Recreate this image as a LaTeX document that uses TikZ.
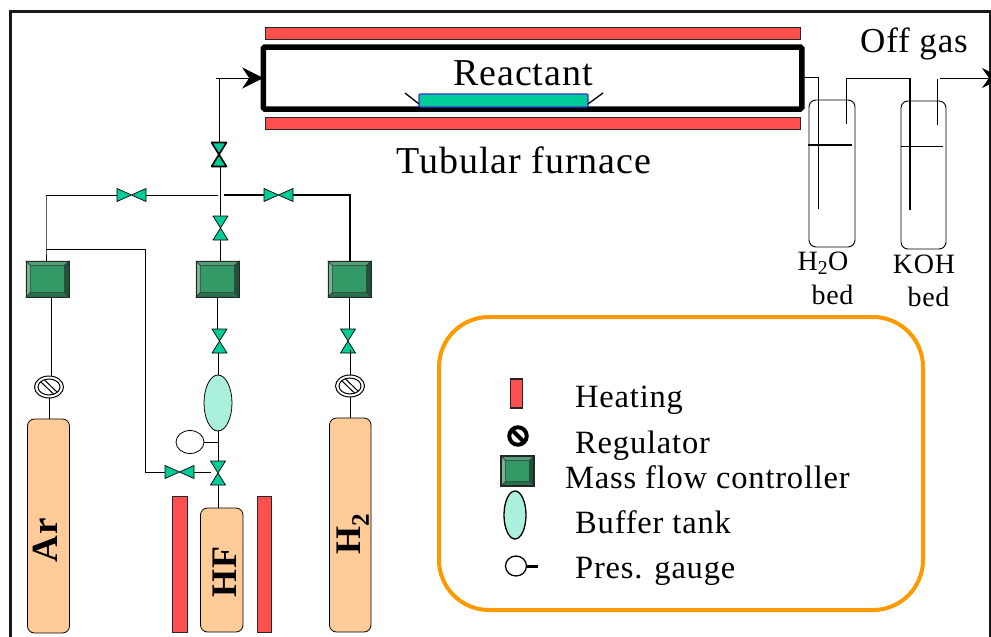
\documentclass[tikz,border=0pt]{standalone}
\usepackage{fontspec}
\setmainfont{Liberation Serif}[LetterSpace=2.5]
\usetikzlibrary{arrows.meta}
\usetikzlibrary{shapes.geometric}
\definecolor{heatred}{HTML}{FF5050}
\definecolor{valvegreen}{HTML}{00CC99}
\definecolor{tankgreen}{HTML}{AAF0DC}
\definecolor{mfcgreen}{HTML}{339966}
\definecolor{mfcleft}{HTML}{74B394}
\definecolor{mfctop}{HTML}{529F79}
\definecolor{mfcright}{HTML}{1C5339}
\definecolor{mfcbottom}{HTML}{29704C}
\definecolor{gasorange}{HTML}{FFCC99}
\definecolor{legendorange}{HTML}{FF9900}
\definecolor{plateblue}{HTML}{3333CC}
\tikzset{
    pipe/.style={line width=0.9pt,black},
    heater/.style={draw=black!85,line width=1pt,fill=heatred,rectangle,inner sep=0pt,outer sep=0pt},
    valvebox/.style={rectangle,inner sep=0pt,outer sep=0pt},
    valvetall/.style={valvebox,minimum width=15pt,minimum height=24pt},
    valvewide/.style={valvebox,rotate=90,minimum width=13pt,minimum height=29pt},
    cylinder/.style={draw=black,line width=0.8pt,fill=gasorange,rectangle,rounded corners=7pt,inner sep=0pt,outer sep=0pt},
    bubbler/.style={draw=black,line width=0.9pt,rectangle,rounded corners=7pt,inner sep=0pt,outer sep=0pt},
    tank/.style={draw=black,line width=0.8pt,fill=tankgreen,ellipse,inner sep=0pt,outer sep=0pt},
    gauge/.style={draw=black,line width=0.8pt,fill=white,ellipse,inner sep=0pt,outer sep=0pt},
    mfcbox/.style={rectangle,inner sep=0pt,outer sep=0pt,fill=mfcgreen},
    regbox/.style={draw=black,line width=1pt,fill=white,ellipse,inner sep=0pt,outer sep=0pt,minimum width=29pt,minimum height=22pt},
    gaslabel/.style={font=\fontsize{37}{40}\selectfont\bfseries,rotate=90,inner sep=0pt},
    biglabel/.style={font=\fontsize{38}{40}\selectfont,inner sep=0pt},
    legendlabel/.style={font=\fontsize{32.5}{36}\selectfont,anchor=base west,inner sep=0pt},
    bedlabel/.style={font=\fontsize{28}{32}\selectfont,inner sep=0pt},
}
% name, x, y, style, line width
\newcommand{\valve}[5]{
    \node[#4] (#1) at (#2,#3) {};
    \draw[fill=valvegreen,draw=black,line width=#5pt,line join=round] (#1.north west) -- (#1.north east)
        -- (#1.south west) -- (#1.south east) -- cycle;
}
% name, x, y
\newcommand{\regulator}[3]{
    \node[regbox] (#1) at (#2,#3) {};
    \draw[line width=1pt] (#2,#3) ellipse (11pt and 8pt);
    \draw[line width=1pt] (#2-8,#3-5) -- (#2+4.5,#3+7);
    \draw[line width=1pt] (#2-4.5,#3-7) -- (#2+8,#3+5);
}
% name, x, y, width, height, border
\newcommand{\mfc}[6]{
    \node[mfcbox,minimum width=#4pt,minimum height=#5pt] (#1) at (#2,#3) {};
    \begin{scope}[draw=black!80,line width=0.5pt]
        \filldraw[fill=mfcleft] (#1.north west) -- (#1.south west) -- ++(4.5,-4.5) -- ++(0,{-(#5-9)}) -- cycle;
        \filldraw[fill=mfctop] (#1.north west) -- (#1.north east) -- ++(-4.5,4.5) -- ++({-(#4-9)},0) -- cycle;
        \filldraw[fill=mfcright] (#1.north east) -- (#1.south east) -- ++(-4.5,-4.5) -- ++(0,{-(#5-9)}) -- cycle;
        \filldraw[fill=mfcbottom] (#1.south west) -- (#1.south east) -- ++(-4.5,-4.5) -- ++({-(#4-9)},0) -- cycle;
    \end{scope}
    \draw[black!85,line width=#6pt] (#1.north west) rectangle (#1.south east);
}
\begin{document}
\begin{tikzpicture}[x=1pt,y=-1pt]
    \useasboundingbox (0,0) rectangle (991,637);
    % frame
    \draw[line width=3pt,black!90] (10,637) -- (10,11) -- (990,11) -- (990,637);
    % furnace
    \node[heater,minimum width=535pt,minimum height=12pt] (heattop) at (532.5,33) {};
    \node[heater,minimum width=535pt,minimum height=12pt] (heatbot) at (532.5,123) {};
    \node[draw=black,line width=5.5pt,rounded corners=1.5pt,rectangle,minimum width=538.5pt,minimum height=62pt,inner sep=0pt,outer sep=0pt] (reactor) at (532.5,78) {};
    \node[draw=plateblue,fill=valvegreen,line width=1.4pt,rounded corners=1pt,rectangle,minimum width=169pt,minimum height=13pt,inner sep=0pt,outer sep=0pt] (plate) at (503.5,100.5) {};
    \coordinate (clipleft) at (405,93);
    \coordinate (clipright) at (603,93);
    \draw[line width=1.3pt] (clipleft) -- ([yshift=-3.5pt]plate.west);
    \draw[line width=1.3pt] (clipright) -- ([yshift=-3.5pt]plate.east);
    \node[biglabel] (reactant) at (523,73) {Reactant};
    \node[biglabel] (furnace) at (524,160) {Tubular furnace};
    \node[biglabel,font=\fontsize{35}{36}\selectfont] (offgas) at (914,44) {Off gas};

    % valves
    \valve{vtop}{219}{154.5}{valvetall}{1.6}
    \foreach \name/\x/\y/\r in {vleft/131.5/195/valvewide, vright/278.5/195/valvewide, vmid/220.5/228/valvetall,
        vhf/219.5/341/valvetall, vhtwo/348/341/valvetall, vbypass/179.5/472/valvewide, vbottom/218/473/valvetall}
    {
        \valve{\name}{\x}{\y}{\r}{0.7}
    }

    % mass flow controllers
    \foreach \name/\x in {mfcar/47.5, mfchf/217.5, mfchtwo/349.5}
    {
        \mfc{\name}{\x}{279}{43}{36}{0.8}
    }

    % regulators, tank, gauge
    \regulator{regar}{49}{387}
    \regulator{reghtwo}{350}{386}
    \node[tank,minimum width=28pt,minimum height=56pt] (buffer) at (218,403) {};
    \node[gauge,minimum width=28pt,minimum height=23pt] (pgauge) at (190,442) {};

    % cylinders and the HF heaters
    \node[cylinder,minimum width=42pt,minimum height=214pt] (ar) at (48.5,526) {};
    \node[cylinder,minimum width=42.5pt,minimum height=124pt] (hf) at (221.75,570) {};
    \node[cylinder,minimum width=41.5pt,minimum height=214pt] (htwo) at (350.25,525) {};
    \node[heater,minimum width=15pt,minimum height=136pt] (heatleft) at (180,564) {};
    \node[heater,minimum width=14.5pt,minimum height=136pt] (heatright) at (264.25,564) {};
    \node[gaslabel] (arlabel) at (45,540) {Ar};
    \node[gaslabel,font=\fontsize{36}{40}\selectfont\bfseries] (hflabel) at (225,572) {HF};
    \node[gaslabel,font=\fontsize{36}{40}\selectfont\bfseries] (htwolabel) at (353,534) {H\textsubscript{2}};

    % pipes
    \coordinate (inlet) at (216,78);
    \coordinate (cross) at (220,195);
    \coordinate (bendar) at (46,195);
    \coordinate (bendhtwo) at (350,195);
    \coordinate (splitar) at (46,249);
    \coordinate (bendby) at (145,249);
    \coordinate (bendbytwo) at (145,472);
    \coordinate (teegauge) at (218,442);
    \draw[pipe,-{Stealth[length=21pt,width=21pt,inset=7pt]}] (inlet) -- (reactor.west);
    \draw[pipe] (vtop.north) -- (vtop.north |- inlet);
    \draw[pipe] (cross |- vtop.south) -- (cross |- vmid.north);
    \draw[pipe] (bendar) -- (vleft.north);
    \draw[pipe] (vleft.south) -- ([xshift=-2pt]cross);
    \draw[pipe] (vmid.south) -- (mfchf.north -| vmid.south);
    \draw[pipe,line width=1.1pt] ([xshift=4pt]cross) -- (vright.north);
    \draw[pipe,line width=1.1pt] (vright.south) -- (bendhtwo) -- (mfchtwo.north -| bendhtwo);
    \draw[pipe] (bendar) -- (splitar) -- (mfcar.north -| splitar);
    \draw[pipe] (splitar) -- (bendby) -- (bendbytwo) -- (vbypass.north);
    \draw[pipe] (vbypass.south) -- (vbypass.south -| vbottom.west);
    \draw[pipe] ([xshift=3.5pt]mfcar.south) -- ([xshift=2pt]regar.north);
    \draw[pipe] (regar.south) -- (regar.south |- ar.north);
    \draw[pipe] (mfchf.south) -- (mfchf.south |- vhf.north);
    \draw[pipe] (vhf.south -| buffer.north) -- (buffer.north);
    \draw[pipe] (buffer.south) -- (vbottom.north);
    \draw[pipe] (pgauge.east) -- (teegauge);
    \draw[pipe] (vbottom.south) -- (vbottom.south |- hf.north);
    \draw[pipe] (mfchtwo.south) -- (mfchtwo.south |- vhtwo.north);
    \draw[pipe] ([yshift=3pt]vhtwo.south -| reghtwo.north) -- (reghtwo.north);
    \draw[pipe] (reghtwo.south) -- (reghtwo.south |- htwo.north);

    % bubblers
    \node[bubbler,minimum width=46pt,minimum height=147pt] (bedwater) at (832,173.5) {};
    \node[bubbler,minimum width=45pt,minimum height=148pt] (bedkoh) at (923.5,175) {};
    \coordinate (waterin) at (818.5,209);
    \coordinate (waterout) at (846,124);
    \coordinate (kohin) at (910,210);
    \coordinate (kohout) at (937,125);
    \coordinate (offstart) at (940,78);
    \coordinate (offend) at (1002,78);
    \draw[pipe] (reactor.east |- 0,77) -| (waterin);
    \draw[pipe] (waterout) |- (kohin |- 0,78);
    \draw[pipe,line width=1.3pt] (kohin |- 0,78) -- (kohin);
    \draw[pipe] (kohout) -- (kohout |- 0,79);
    \draw[pipe,-{Stealth[length=20pt,width=20pt,inset=7pt]}] (offstart) -- (offend);
    \draw[line width=1.8pt] (808,145) coordinate (levelwater) -- (852,145);
    \draw[line width=0.9pt] (901,146.5) coordinate (levelkoh) -- (943,146.5);
    \node[bedlabel] (waterlabel) at (823,263) {H\textsubscript{2}O};
    \node[bedlabel] (waterbed) at (832.5,295) {bed};
    \node[bedlabel] (kohlabel) at (924,264) {KOH};
    \node[bedlabel] (kohbed) at (928.5,297) {bed};

    % legend
    \node[draw=legendorange,line width=4pt,rounded corners=50pt,rectangle,minimum width=484pt,minimum height=293pt,inner sep=0pt,outer sep=0pt] (legend) at (681,463.5) {};
    \node[heater,line width=1.4pt,minimum width=12.5pt,minimum height=29pt] (keyheat) at (516.5,393.5) {};
    \node[draw=black,line width=4pt,fill=white,circle,minimum size=17.5pt,inner sep=0pt,outer sep=0pt] (keyreg) at (518,436) {};
    \draw[line width=4pt] (keyreg.north west) -- (keyreg.south east);
    \mfc{keymfc}{517.5}{471}{33}{30}{2}
    \node[tank,line width=1.3pt,minimum width=22pt,minimum height=48pt] (keytank) at (515,515) {};
    \node[gauge,line width=1.3pt,minimum width=21pt,minimum height=20pt] (keygauge) at (516,566) {};
    \coordinate (keystub) at (538,566);
    \draw[line width=3pt] (keygauge.east) -- (keystub);
    \node[legendlabel] (lheat) at (575,407) {Heating};
    \node[legendlabel] (lreg) at (575,453) {Regulator};
    \node[legendlabel] (lmfc) at (565,488) {Mass flow controller};
    \node[legendlabel] (ltank) at (575,533) {Buffer tank};
    \node[legendlabel] (lgauge) at (575,578) {Pres. gauge};
\end{tikzpicture}
\end{document}
